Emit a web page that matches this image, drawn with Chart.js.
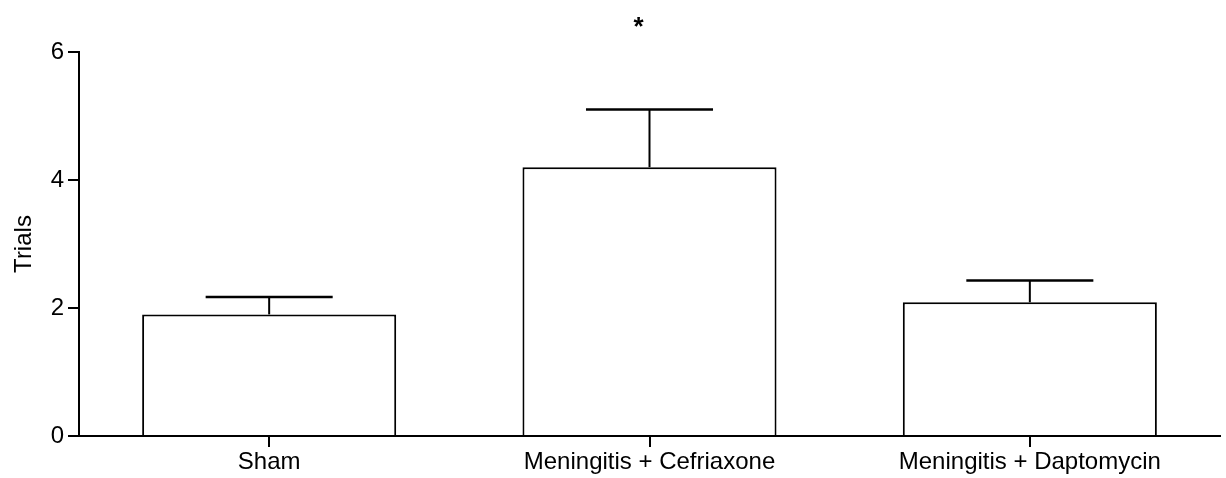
<!DOCTYPE html>
<html>
<head>
<meta charset="utf-8">
<script src="https://cdn.jsdelivr.net/npm/chart.js@4.4.1/dist/chart.umd.min.js"></script>
<style>
  html, body { margin: 0; padding: 0; background: #fff; }
  #wrap { width: 1226px; height: 478px; position: relative; }
</style>
</head>
<body>
<div id="wrap"><canvas id="c" width="1226" height="478"></canvas></div>
<script>
const categories = ["Sham", "Meningitis + Cefriaxone", "Meningitis + Daptomycin"];
const means = [1.90, 4.20, 2.09];
const sems = [0.27, 0.90, 0.34];
const yTicks = [0, 2, 4, 6];
const yTitle = "Trials";
const significance = ["", "*", ""];

const FONT = "'Liberation Sans', Arial, Helvetica, sans-serif";

const errorBarPlugin = {
  id: 'errorBars',
  afterDatasetsDraw(chart) {
    const ctx = chart.ctx;
    const meta = chart.getDatasetMeta(0);
    const y = chart.scales.y;
    ctx.save();
    ctx.strokeStyle = '#000';
    meta.data.forEach((bar, i) => {
      const top = y.getPixelForValue(means[i]);
      const hi = y.getPixelForValue(means[i] + sems[i]);
      const half = bar.width * 0.25;
      ctx.lineWidth = 2;
      ctx.beginPath();
      ctx.moveTo(bar.x, top);
      ctx.lineTo(bar.x, hi);
      ctx.stroke();
      ctx.lineWidth = 2.5;
      ctx.beginPath();
      ctx.moveTo(bar.x - half, hi);
      ctx.lineTo(bar.x + half, hi);
      ctx.stroke();
      if (significance[i]) {
        ctx.fillStyle = '#000';
        ctx.font = 'bold 26px ' + FONT;
        ctx.textAlign = 'center';
        ctx.textBaseline = 'alphabetic';
        ctx.fillText(significance[i], bar.x - 11, y.getPixelForValue(6.5) + 15);
      }
    });
    ctx.restore();
  }
};

new Chart(document.getElementById('c'), {
  type: 'bar',
  data: {
    labels: categories,
    datasets: [{
      data: means,
      backgroundColor: '#ffffff',
      borderColor: '#000000',
      borderWidth: 2,
      borderSkipped: 'bottom',
      barPercentage: 1.0,
      categoryPercentage: 0.668
    }]
  },
  options: {
    responsive: false,
    animation: false,
    devicePixelRatio: 1,
    layout: { padding: { top: 52, right: 6, bottom: 0, left: 0 } },
    plugins: { legend: { display: false }, tooltip: { enabled: false } },
    scales: {
      x: {
        afterFit(scale) { scale.height = 42; },
        border: { display: true, color: '#000', width: 2 },
        grid: { display: true, drawOnChartArea: false, offset: false, drawTicks: true, tickLength: 11, color: '#000', lineWidth: 2 },
        ticks: { color: '#000', font: { family: FONT, size: 24 }, padding: 1, maxRotation: 0 }
      },
      y: {
        min: 0, max: 6,
        afterFit(scale) { scale.width = 79; },
        afterBuildTicks(scale) { scale.ticks = yTicks.map(v => ({ value: v })); },
        border: { display: true, color: '#000', width: 2 },
        grid: { display: true, drawOnChartArea: false, drawTicks: true, tickLength: 11, color: '#000', lineWidth: 2 },
        ticks: { color: '#000', font: { family: FONT, size: 24 }, padding: 4 },
        title: { display: true, text: yTitle, color: '#000', font: { family: FONT, size: 24 }, padding: { top: 10, bottom: 0 } }
      }
    }
  },
  plugins: [errorBarPlugin]
});
</script>
</body>
</html>
